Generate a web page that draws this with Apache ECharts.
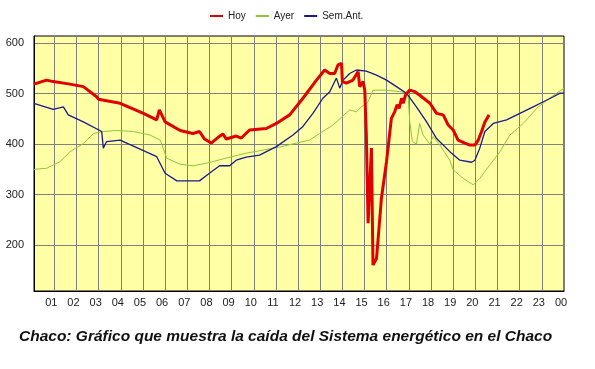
<!DOCTYPE html>
<html>
<head>
<meta charset="utf-8">
<script src="https://cdn.jsdelivr.net/npm/echarts@6/dist/echarts.min.js"></script>
<style>
html,body{margin:0;padding:0;background:#fff;}
#c{width:595px;height:369px;}
</style>
</head>
<body>
<div id="c"></div>
<script>
const seriesNames = ['Hoy', 'Ayer', 'Sem.Ant.'];
const yTicks = [200, 300, 400, 500, 600];
const xTicks = [1,2,3,4,5,6,7,8,9,10,11,12,13,14,15,16,17,18,19,20,21,22,23,24];
const caption = 'Chaco: Gráfico que muestra la caída del Sistema energético en el Chaco';

// [hour, MW]
const hoy = [
 [0.08,519],[0.65,527],[0.95,524],[1.71,519],[2.31,514],[2.91,494],[2.99,489],[3.97,481],
 [5.02,461],[5.62,448],[5.74,468],[6.0,444],[6.68,427],[7.25,421],[7.55,425],[7.78,410],
 [8.08,402],[8.38,413],[8.61,420],[8.76,410],[9.21,416],[9.44,412],[9.81,428],[10.57,431],
 [11.02,441],[11.62,458],[12.22,491],[12.83,527],[13.2,547],[13.43,540],[13.65,540],[13.8,557],
 [13.96,560],[14.0,524],[14.18,521],[14.48,527],[14.71,544],[14.78,514],[14.93,524],[15.01,507],
 [15.08,418],[15.16,243],[15.31,392],[15.38,160],[15.54,173],[15.76,292],[15.99,365],[16.21,451],
 [16.36,464],[16.47,478],[16.56,471],[16.67,491],[16.74,481],[16.86,499],[17.04,507],[17.27,504],
 [17.49,497],[17.95,481],[18.25,461],[18.55,458],[18.77,438],[19.0,428],[19.22,408],[19.53,402],
 [19.75,398],[19.98,398],[20.13,408],[20.28,425],[20.43,444],[20.62,458]
];
const ayer = [
 [0.08,350],[0.65,352],[1.26,365],[1.71,385],[2.31,401],[2.76,421],[3.21,425],[3.82,427],
 [4.57,425],[5.32,418],[5.78,408],[6.07,372],[6.68,360],[7.25,357],[7.86,362],[8.91,374],
 [9.66,382],[10.41,388],[11.17,394],[11.92,402],[12.52,408],[12.97,421],[13.58,438],[14.33,468],
 [14.63,464],[14.86,474],[15.16,484],[15.38,507],[15.99,507],[16.59,504],[16.96,501],[17.04,444],
 [17.16,405],[17.34,400],[17.49,441],[17.64,418],[17.95,400],[18.09,415],[18.4,398],[18.85,368],
 [19.0,349],[19.45,332],[19.91,319],[20.2,332],[20.66,359],[21.11,385],[21.56,418],[22.16,441],
 [22.77,471],[23.22,487],[23.67,501],[24.0,511]
];
const semAnt = [
 [0.08,481],[0.95,469],[1.41,474],[1.48,476],[1.63,458],[2.31,444],[3.14,425],[3.21,392],
 [3.36,405],[3.97,408],[4.57,396],[5.62,375],[6.0,342],[6.53,327],[7.55,327],[8.0,342],
 [8.46,357],[8.91,357],[9.21,368],[9.66,374],[10.26,378],[11.02,395],[11.77,418],[12.22,435],
 [12.67,461],[13.12,491],[13.43,504],[13.73,531],[13.88,511],[14.03,527],[14.33,540],[14.63,547],
 [15.08,545],[15.54,537],[15.99,527],[16.44,514],[16.89,501],[17.34,474],[17.8,444],[18.25,411],
 [18.85,385],[19.3,368],[19.83,364],[19.98,368],[20.2,392],[20.43,425],[20.81,441],[21.41,448],
 [22.01,461],[22.61,474],[23.07,484],[23.52,494],[23.82,501],[24.0,501]
];

const chart = echarts.init(document.getElementById('c'), null, {renderer: 'canvas'});
const fontFam = '"Liberation Sans", Arial, sans-serif';
chart.setOption({
  animation: false,
  backgroundColor: '#ffffff',
  title: {
    text: caption,
    left: 14,
    top: 324,
    textStyle: {fontFamily: fontFam, fontSize: 15.5, fontStyle: 'italic', fontWeight: 'bold', color: '#111'}
  },
  legend: {
    data: seriesNames,
    left: 205,
    top: 6,
    icon: 'rect',
    itemWidth: 13,
    itemHeight: 2,
    itemGap: 10,
    textStyle: {fontFamily: fontFam, fontSize: 10, color: '#222'}
  },
  grid: {
    left: 34, right: 31, top: 36, bottom: 78,
    show: true,
    backgroundColor: '#FFFFA6',
    borderColor: '#000',
    borderWidth: 1
  },
  xAxis: {
    type: 'value',
    min: 1/12,
    max: 24,
    axisLine: {show: true, lineStyle: {color: '#000'}},
    axisTick: {show: false, customValues: xTicks},
    axisLabel: {
      customValues: xTicks,
      margin: 6,
      padding: [0, 6, 0, 0],
      fontFamily: fontFam, fontSize: 11, color: '#222',
      formatter: v => String(Math.round(v) % 24).padStart(2, '0')
    },
    splitLine: {show: true, lineStyle: {color: '#808080', width: 1}}
  },
  yAxis: {
    type: 'value',
    min: 108.5,
    max: 614.5,
    axisLine: {show: true, lineStyle: {color: '#000'}},
    axisTick: {show: false, customValues: yTicks},
    axisLabel: {
      customValues: yTicks,
      margin: 10,
      fontFamily: fontFam, fontSize: 11, color: '#222'
    },
    splitLine: {show: true, lineStyle: {color: '#808080', width: 1}}
  },
  series: [
    {name: 'Ayer', type: 'line', data: ayer, showSymbol: false, symbol: 'none', z: 2,
     color: '#8CC63F', lineStyle: {width: 1, color: '#8CC63F'}},
    {name: 'Sem.Ant.', type: 'line', data: semAnt, showSymbol: false, symbol: 'none', z: 3,
     color: '#1A1A8C', lineStyle: {width: 1.3, color: '#1A1A8C'}},
    {name: 'Hoy', type: 'line', data: hoy, showSymbol: false, symbol: 'none', z: 4,
     color: '#E00000', lineStyle: {width: 3, color: '#E00000'}}
  ]
});
</script>
</body>
</html>
